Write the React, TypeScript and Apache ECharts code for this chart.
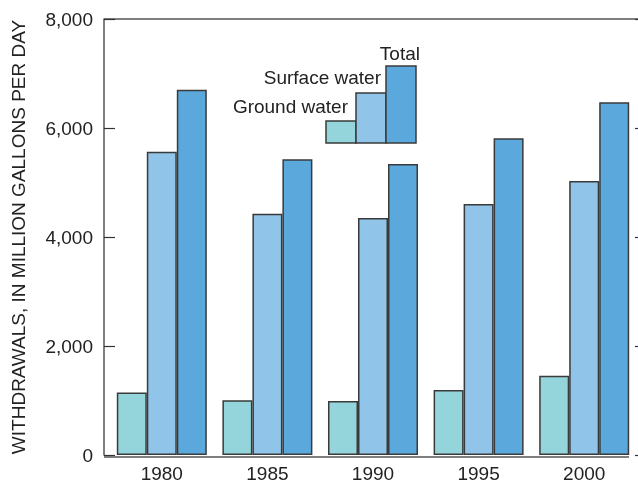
import React, { useEffect, useRef } from "react";
import * as echarts from "echarts";

const years = ["1980", "1985", "1990", "1995", "2000"];
const groundWater = [1145, 1005, 992, 1193, 1456];
const surfaceWater = [5565, 4425, 4347, 4605, 5029];
const totalWater = [6703, 5425, 5339, 5812, 6471];
const yTicks = [0, 2000, 4000, 6000, 8000];

const C_GROUND = "#94D5DB";
const C_SURFACE = "#91C4E9";
const C_TOTAL = "#5BA8DC";
const EDGE = "#3a3a3a";
const AXIS = "#555555";
const FONT = "'Liberation Sans', Arial, sans-serif";
const FS = 19;

export default function App() {
  const ref = useRef<HTMLDivElement>(null);
  useEffect(() => {
    if (!ref.current) return;
    const chart = echarts.init(ref.current, undefined, { renderer: "svg" });
    const barStyle = (c: string) => ({ color: c, borderColor: EDGE, borderWidth: 1.5 });
    chart.setOption({
      animation: false,
      textStyle: { fontFamily: FONT },
      grid: { left: 109, right: 1, top: 19, bottom: 26 },
      xAxis: {
        type: "category",
        data: years,
        axisLine: { show: false },
        axisTick: { show: false },
        axisLabel: { color: "#222", fontSize: FS, margin: 9, fontFamily: FONT },
      },
      yAxis: [
        {
          type: "value",
          min: yTicks[0],
          max: yTicks[yTicks.length - 1],
          interval: 2000,
          offset: 5,
          name: "WITHDRAWALS, IN MILLION GALLONS PER DAY",
          nameLocation: "middle",
          nameGap: 76,
          nameTextStyle: { color: "#222", fontSize: FS, fontFamily: FONT },
          axisLine: { show: true, lineStyle: { color: AXIS, width: 1.5 } },
          axisTick: { show: true, inside: true, length: 11, lineStyle: { color: "#333", width: 1.2 } },
          axisLabel: {
            color: "#222",
            fontSize: FS,
            margin: 11,
            fontFamily: FONT,
            formatter: (v: number) => v.toLocaleString("en-US"),
          },
          splitLine: { show: false },
        },
        {
          type: "value",
          position: "right",
          min: yTicks[0],
          max: yTicks[yTicks.length - 1],
          interval: 2000,
          offset: 9,
          axisLine: { show: true, lineStyle: { color: AXIS, width: 1.5 } },
          axisTick: { show: true, inside: true, length: 11, lineStyle: { color: "#333", width: 1.2 } },
          axisLabel: { show: false },
          splitLine: { show: false },
        },
      ],
      series: [
        { name: "Ground water", type: "bar", data: groundWater, barWidth: 30, barGap: "0%", itemStyle: barStyle(C_GROUND) },
        { name: "Surface water", type: "bar", data: surfaceWater, barWidth: 30, barGap: "0%", itemStyle: barStyle(C_SURFACE) },
        { name: "Total", type: "bar", data: totalWater, barWidth: 30, barGap: "0%", itemStyle: barStyle(C_TOTAL) },
      ],
      graphic: [
        { type: "line", shape: { x1: 104, y1: 19, x2: 640, y2: 19 }, style: { stroke: AXIS, lineWidth: 1.5 } },
        { type: "line", shape: { x1: 104, y1: 457, x2: 629, y2: 457 }, style: { stroke: AXIS, lineWidth: 1.5 }, z: 10 },
        { type: "rect", shape: { x: 326, y: 121, width: 30, height: 22 }, style: { fill: C_GROUND, stroke: EDGE, lineWidth: 1.5 } },
        { type: "rect", shape: { x: 356, y: 93, width: 30, height: 50 }, style: { fill: C_SURFACE, stroke: EDGE, lineWidth: 1.5 } },
        { type: "rect", shape: { x: 386, y: 66, width: 30, height: 77 }, style: { fill: C_TOTAL, stroke: EDGE, lineWidth: 1.5 } },
        { type: "text", x: 420, y: 53, style: { text: "Total", fill: "#222", font: `${FS}px ${FONT}`, textAlign: "right", textVerticalAlign: "middle" } },
        { type: "text", x: 381, y: 77, style: { text: "Surface water", fill: "#222", font: `${FS}px ${FONT}`, textAlign: "right", textVerticalAlign: "middle" } },
        { type: "text", x: 348, y: 106, style: { text: "Ground water", fill: "#222", font: `${FS}px ${FONT}`, textAlign: "right", textVerticalAlign: "middle" } },
      ],
    });
    return () => chart.dispose();
  }, []);
  return <div ref={ref} style={{ position: "fixed", left: 0, top: 0, width: 638, height: 483 }} />;
}
